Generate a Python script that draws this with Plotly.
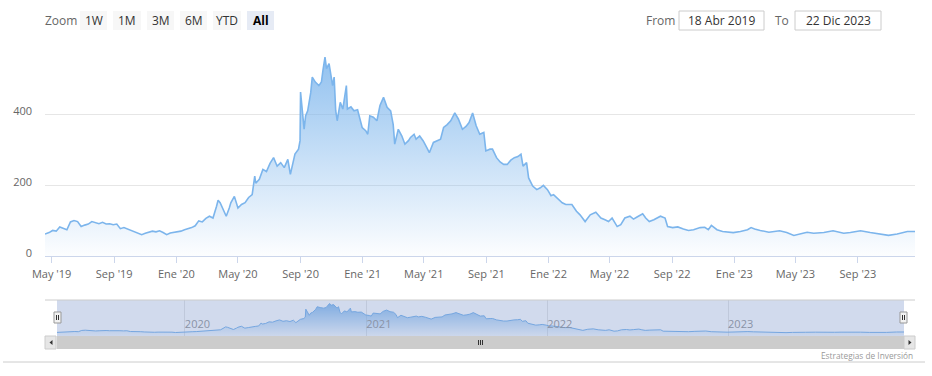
import plotly.graph_objects as go

# ---------------- data ----------------
dates = [
"2019-04-18","2019-04-26","2019-05-03","2019-05-10","2019-05-17","2019-05-24","2019-05-31","2019-06-07","2019-06-14","2019-06-21",
"2019-06-28","2019-07-05","2019-07-12","2019-07-19","2019-07-26","2019-08-02","2019-08-09","2019-08-16","2019-08-23","2019-08-30",
"2019-09-06","2019-09-13","2019-09-20","2019-09-27","2019-10-04","2019-10-11","2019-10-18","2019-10-25","2019-11-01","2019-11-08",
"2019-11-15","2019-11-22","2019-11-29","2019-12-06","2019-12-13","2019-12-20","2019-12-27","2020-01-03","2020-01-10","2020-01-17",
"2020-01-24","2020-01-31","2020-02-07","2020-02-14","2020-02-21","2020-02-28","2020-03-06","2020-03-13","2020-03-20","2020-03-23",
"2020-03-27","2020-04-03","2020-04-08","2020-04-14","2020-04-17","2020-04-24","2020-05-01","2020-05-08","2020-05-15","2020-05-22",
"2020-05-29","2020-06-03","2020-06-05","2020-06-12","2020-06-19","2020-06-26","2020-07-03","2020-07-10","2020-07-17","2020-07-24",
"2020-07-31","2020-08-07","2020-08-12","2020-08-21","2020-08-28","2020-08-31","2020-09-01","2020-09-08","2020-09-11","2020-09-15",
"2020-09-21","2020-09-24","2020-09-30","2020-10-07","2020-10-12","2020-10-15","2020-10-19","2020-10-22","2020-10-27","2020-11-03",
"2020-11-06","2020-11-09","2020-11-12","2020-11-18","2020-11-23","2020-11-30","2020-12-02","2020-12-09","2020-12-15","2020-12-22",
"2020-12-31","2021-01-07","2021-01-11","2021-01-15","2021-01-22","2021-01-29","2021-02-04","2021-02-11","2021-02-18","2021-02-25",
"2021-03-02","2021-03-05","2021-03-12","2021-03-19","2021-03-25","2021-04-01","2021-04-05","2021-04-12","2021-04-16","2021-04-23",
"2021-04-30","2021-05-07","2021-05-12","2021-05-20","2021-05-27","2021-06-03","2021-06-09","2021-06-16","2021-06-23","2021-07-01",
"2021-07-08","2021-07-16","2021-07-23","2021-07-29","2021-08-05","2021-08-12","2021-08-19","2021-08-27","2021-08-31","2021-09-08",
"2021-09-13","2021-09-21","2021-09-28","2021-10-05","2021-10-12","2021-10-19","2021-10-26","2021-11-02","2021-11-08","2021-11-12",
"2021-11-19","2021-11-23","2021-12-01","2021-12-09","2021-12-16","2021-12-22","2021-12-30","2022-01-06","2022-01-11","2022-01-21",
"2022-01-28","2022-02-04","2022-02-16","2022-02-25","2022-03-04","2022-03-14","2022-03-24","2022-04-04","2022-04-14","2022-04-22",
"2022-04-29","2022-05-06","2022-05-13","2022-05-16","2022-05-23","2022-05-31","2022-06-10","2022-06-17","2022-06-24","2022-07-05",
"2022-07-11","2022-07-18","2022-07-27","2022-08-09","2022-08-18","2022-08-23","2022-09-02","2022-09-12","2022-09-23","2022-10-03",
"2022-10-13","2022-10-26","2022-11-04","2022-11-11","2022-11-17","2022-11-28","2022-12-09","2022-12-30","2023-01-13","2023-01-27",
"2023-02-03","2023-02-10","2023-02-21","2023-03-10","2023-03-31","2023-04-14","2023-04-28","2023-05-11","2023-05-24","2023-06-06",
"2023-06-26","2023-07-14","2023-08-04","2023-08-17","2023-09-06","2023-09-25","2023-10-13","2023-10-31","2023-11-17","2023-12-07",
"2023-12-22"]

prices = [
62,66,72,70,82,77,74,96,100,97,
83,87,90,97,94,91,95,90,91,88,
90,77,80,76,74,70,66,60,64,67,
70,68,71,66,60,65,66,68,70,74,
76,80,85,99,96,106,112,107,140,157,
150,130,112,135,150,168,135,145,150,165,
173,225,205,216,244,238,261,277,253,263,
249,272,230,287,301,325,462,357,395,409,
460,504,490,480,490,523,560,528,542,480,
504,410,381,433,414,480,414,420,409,412,
362,353,343,395,391,381,424,447,419,409,
370,315,357,338,315,325,334,343,329,338,
324,305,291,320,325,329,362,370,381,403,
386,357,365,376,403,367,343,348,296,301,
301,277,265,258,258,270,277,280,287,253,
263,220,197,187,192,199,187,170,173,159,
150,145,145,126,116,97,116,123,107,102,
97,107,90,83,88,107,112,104,110,119,
107,97,102,112,107,83,80,82,76,72,
74,80,81,74,86,74,69,66,69,74,
80,76,72,67,71,66,58,62,67,64,
66,71,64,66,71,66,62,58,62,69,
69]

x_tick_vals = ["2019-05-01","2019-09-01","2020-01-01","2020-05-01","2020-09-01","2021-01-01","2021-05-01",
               "2021-09-01","2022-01-01","2022-05-01","2022-09-01","2023-01-01","2023-05-01","2023-09-01"]
x_tick_text = ["May '19","Sep '19","Ene '20","May '20","Sep '20","Ene '21","May '21",
               "Sep '21","Ene '22","May '22","Sep '22","Ene '23","May '23","Sep '23"]
y_tick_vals = [0, 200, 400, 600]
y_tick_text = ["0", "200", "400", ""]
nav_tick_vals = ["2020-01-01","2021-01-01","2022-01-01","2023-01-01"]
nav_tick_text = ["2020","2021","2022","2023"]
range_buttons = ["1W","1M","3M","6M","YTD","All"]
date_from = "18 Abr 2019"
date_to = "22 Dic 2023"
credits = "Estrategias de Inversión"

# ---------------- geometry helpers (pixels -> paper) ----------------
W, H = 932, 376
ML, MR, MT, MB = 45, 17, 43, 27
PW, PH = W - ML - MR, H - MT - MB
def px(x): return (x - ML) / PW
def py(y): return (H - MB - y) / PH

FONT = "Open Sans, Noto Sans, sans-serif"
LINE = "#7cb5ec"

fig = go.Figure()
grad = dict(type="vertical", start=0, stop=570,
            colorscale=[[0, "rgba(124,181,236,0.02)"], [1, "rgba(124,181,236,0.85)"]])
fig.add_trace(go.Scatter(x=dates, y=prices, mode="lines", line=dict(color=LINE, width=1.6),
                         fill="tozeroy", fillgradient=grad, hoverinfo="skip", xaxis="x", yaxis="y"))
grad2 = dict(type="vertical", start=0, stop=570,
             colorscale=[[0, "rgba(124,181,236,0.05)"], [1, "rgba(124,181,236,0.9)"]])
fig.add_trace(go.Scatter(x=dates, y=prices, mode="lines", line=dict(color=LINE, width=1),
                         fill="tozeroy", fillgradient=grad2, hoverinfo="skip", xaxis="x2", yaxis="y2"))

shapes = []
annotations = []

# navigator mask and outline
shapes.append(dict(type="rect", xref="paper", yref="paper", x0=px(57), x1=px(904), y0=py(336), y1=py(300),
                   fillcolor="rgba(102,133,194,0.3)", line=dict(width=0), layer="above"))
shapes.append(dict(type="line", xref="paper", yref="paper", x0=px(45), x1=px(915), y0=py(300), y1=py(300),
                   line=dict(color="#cccccc", width=1), layer="above"))
# scrollbar
shapes.append(dict(type="rect", xref="paper", yref="paper", x0=px(45), x1=px(915), y0=py(349), y1=py(336),
                   fillcolor="#f2f2f2", line=dict(width=0)))
shapes.append(dict(type="rect", xref="paper", yref="paper", x0=px(57), x1=px(904), y0=py(349), y1=py(336),
                   fillcolor="#cccccc", line=dict(width=0)))
for bx in (45, 904):
    shapes.append(dict(type="rect", xref="paper", yref="paper", x0=px(bx), x1=px(bx + 11), y0=py(349), y1=py(336),
                       fillcolor="#e6e6e6", line=dict(color="#cccccc", width=1)))
shapes.append(dict(type="path", xref="paper", yref="paper",
                   path=f"M {px(52.5)} {py(340)} L {px(52.5)} {py(345)} L {px(49.5)} {py(342.5)} Z",
                   fillcolor="#333333", line=dict(width=0)))
shapes.append(dict(type="path", xref="paper", yref="paper",
                   path=f"M {px(908.5)} {py(340)} L {px(908.5)} {py(345)} L {px(911.5)} {py(342.5)} Z",
                   fillcolor="#333333", line=dict(width=0)))
for gx in (478.5, 480.5, 482.5):
    shapes.append(dict(type="line", xref="paper", yref="paper", x0=px(gx), x1=px(gx), y0=py(340), y1=py(345),
                       line=dict(color="#333333", width=1)))
# navigator handles
for hx in (54, 900):
    shapes.append(dict(type="rect", xref="paper", yref="paper", x0=px(hx), x1=px(hx + 7), y0=py(323), y1=py(312),
                       fillcolor="#f2f2f2", line=dict(color="#999999", width=1), layer="above"))
    for lx in (hx + 2.5, hx + 4.5):
        shapes.append(dict(type="line", xref="paper", yref="paper", x0=px(lx), x1=px(lx), y0=py(315), y1=py(320),
                           line=dict(color="#333333", width=1), layer="above"))
# bottom separator
shapes.append(dict(type="line", xref="paper", yref="paper", x0=px(3), x1=px(925), y0=py(362), y1=py(362),
                   line=dict(color="#cccccc", width=1)))

# range selector buttons
annotations.append(dict(text="Zoom", xref="paper", yref="paper", x=px(61), y=py(20), showarrow=False,
                        font=dict(family=FONT, size=12, color="#666666"), xanchor="center", yanchor="middle"))
btn_x = [(80, 107), (113, 141), (147, 174), (180, 207), (213, 241), (247, 274)]
for (x0, x1), label in zip(btn_x, range_buttons):
    active = label == "All"
    shapes.append(dict(type="rect", xref="paper", yref="paper", x0=px(x0), x1=px(x1), y0=py(30), y1=py(11),
                       fillcolor="#e6ebf5" if active else "#f7f7f7", line=dict(width=0)))
    annotations.append(dict(text=f"<b>{label}</b>" if active else label, xref="paper", yref="paper",
                            x=px((x0 + x1) / 2), y=py(20.5), showarrow=False,
                            font=dict(family=FONT, size=12, color="#000000" if active else "#333333"),
                            xanchor="center", yanchor="middle"))
# date inputs
annotations.append(dict(text="From", xref="paper", yref="paper", x=px(660), y=py(20), showarrow=False,
                        font=dict(family=FONT, size=12, color="#666666"), xanchor="center", yanchor="middle"))
annotations.append(dict(text="To", xref="paper", yref="paper", x=px(782), y=py(20), showarrow=False,
                        font=dict(family=FONT, size=12, color="#666666"), xanchor="center", yanchor="middle"))
for (x0, x1), txt in zip([(679, 764), (795, 881)], [date_from, date_to]):
    shapes.append(dict(type="rect", xref="paper", yref="paper", x0=px(x0), x1=px(x1), y0=py(30), y1=py(11),
                       fillcolor="#ffffff", line=dict(color="#cccccc", width=1)))
    annotations.append(dict(text=txt, xref="paper", yref="paper", x=px((x0 + x1) / 2), y=py(20.5), showarrow=False,
                            font=dict(family=FONT, size=12, color="#333333"), xanchor="center", yanchor="middle"))
# credits
annotations.append(dict(text=credits, xref="paper", yref="paper", x=px(915), y=py(355), showarrow=False,
                        font=dict(family=FONT, size=8.3, color="#999999"), xanchor="right", yanchor="middle"))

fig.update_layout(
    width=W, height=H,
    margin=dict(l=ML, r=MR, t=MT, b=MB, pad=0),
    paper_bgcolor="#ffffff", plot_bgcolor="#ffffff",
    showlegend=False,
    font=dict(family=FONT, size=11, color="#666666"),
    xaxis=dict(domain=[0, 1], anchor="y", type="date", range=["2019-04-18", "2023-12-22"],
               tickmode="array", tickvals=x_tick_vals, ticktext=x_tick_text,
               showgrid=False, zeroline=False, showline=True, linecolor="#ccd6eb", linewidth=1,
               ticks="outside", ticklen=6, tickcolor="#ccd6eb", tickfont=dict(size=11, color="#666666"),
               ticklabelstandoff=2, fixedrange=True),
    yaxis=dict(domain=[py(256), py(MT)], anchor="x", range=[0, 600],
               tickmode="array", tickvals=y_tick_vals, ticktext=y_tick_text,
               showgrid=True, gridcolor="#e6e6e6", gridwidth=1, zeroline=False, showline=False,
               ticks="", ticklabelshift=-3, ticklabelstandoff=12, tickfont=dict(size=11, color="#666666"),
               fixedrange=True),
    xaxis2=dict(domain=[px(57), px(904)], anchor="y2", type="date", range=["2019-04-18", "2023-12-22"],
                tickmode="array", tickvals=nav_tick_vals, ticktext=nav_tick_text,
                ticklabelposition="inside right", showgrid=True, gridcolor="#e6e6e6", gridwidth=1,
                zeroline=False, showline=False, ticks="", tickfont=dict(size=11, color="#999999"),
                fixedrange=True),
    yaxis2=dict(domain=[py(336), py(300)], anchor="x2", range=[0, 620], visible=False, showgrid=False,
                fixedrange=True),
    shapes=shapes, annotations=annotations,
)

fig.write_html("out.html", config={"displayModeBar": False},
               post_script="document.body.style.margin='0px';document.body.style.padding='0px';")
